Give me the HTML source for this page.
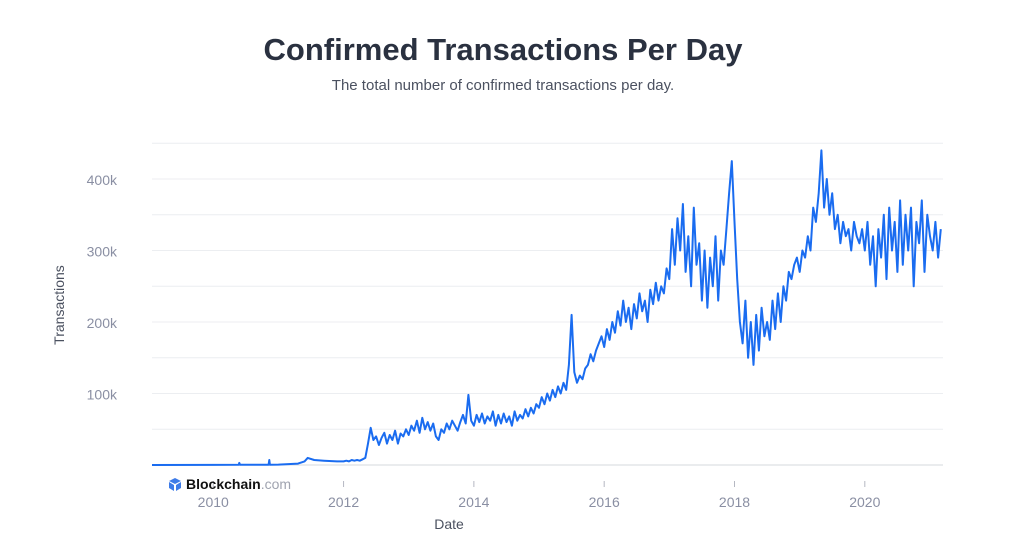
<!DOCTYPE html>
<html><head><meta charset="utf-8"><style>
body{margin:0;background:#fff;width:1024px;height:541px;overflow:hidden;font-family:"Liberation Sans",sans-serif}
</style></head><body>
<svg width="1024" height="541">
<text x="503" y="60" text-anchor="middle" font-size="31" font-weight="bold" fill="#2a3140">Confirmed Transactions Per Day</text>
<text x="503" y="90" text-anchor="middle" font-size="15" fill="#4b5160">The total number of confirmed transactions per day.</text>
<g id="grid"></g>
<g id="yticks"></g>
<g id="xticks"></g>
<text transform="translate(64,305) rotate(-90)" text-anchor="middle" font-size="14" fill="#4b5160">Transactions</text>
<text x="449" y="529" text-anchor="middle" font-size="14" fill="#4b5160">Date</text>
<g>
<path d="M175 478 l6 3 -6 3 -6 -3z M169 482 l5 3 v6 l-5 -3z M181 482 l-5 3 v6 l5 -3z" fill="#3d7be8"/>
<text x="186" y="489" font-size="14" font-weight="bold" fill="#111">Blockchain<tspan font-weight="normal" fill="#a0a4b0">.com</tspan></text>
</g>
<path id="line" fill="none" stroke="#1a6cf0" stroke-width="2" stroke-linejoin="round"/>
</svg>
<script>
const yTicks=[100000,200000,300000,400000];
const yTickLabels=["100k","200k","300k","400k"];
const xTicks=[2010,2012,2014,2016,2018,2020];
const earlyDates=[2009.06,2010.0,2010.39,2010.4,2010.41,2010.85,2010.86,2010.87,2011.0,2011.3,2011.4,2011.45,2011.55,2011.7,2011.9];
const earlyValues=[0,200,300,3000,300,400,7000,400,500,2000,5000,10000,7000,6000,5000];
const startYear=2012, stepYears=1/24;
const values=[
5,6,5,7,6,7,6,8,10,30,52,35,40,28,38,45,30,42,35,48,30,44,40,50,
42,55,48,62,45,66,50,60,48,58,40,35,50,45,58,50,62,55,48,60,70,58,98,62,
55,70,60,72,58,68,62,75,55,70,58,72,60,68,55,75,62,70,65,78,68,80,72,85,
80,95,85,100,90,105,95,110,100,115,105,140,210,130,115,125,120,135,140,155,145,160,170,180,
165,190,175,200,185,215,195,230,200,220,190,225,205,240,215,230,200,245,225,255,230,250,240,275,
260,330,280,345,300,365,270,320,250,360,280,310,230,300,220,290,250,320,230,300,280,330,380,425,
340,260,200,170,230,150,200,140,210,160,220,180,200,175,230,190,240,200,250,230,270,260,280,290,
270,300,290,320,300,360,340,380,440,360,400,350,380,330,350,310,340,320,330,300,340,320,310,330,
300,340,280,320,250,330,290,350,260,360,300,340,270,370,280,350,300,360,250,340,310,370,270,350,
320,300,340,290,330];
const NS="http://www.w3.org/2000/svg";
const x0=152,x1=943,yr0=2009.06,yr1=2021.2;
const X=t=>x0+(t-yr0)/(yr1-yr0)*(x1-x0);
const Y=v=>465-v/100000*71.5;
const grid=document.getElementById('grid');
for(let v=0;v<=450000;v+=50000){
 const l=document.createElementNS(NS,'line');
 
 
 l.setAttribute('x1',x0);l.setAttribute('x2',x1);l.setAttribute('y1',Y(v));l.setAttribute('y2',Y(v));
 l.setAttribute('stroke',v===0?'#d5d8de':'#eceef1');grid.appendChild(l);
}
const yg=document.getElementById('yticks');
yTicks.forEach((v,i)=>{
 const t=document.createElementNS(NS,'text');
 
 
 t.setAttribute('x',117);t.setAttribute('y',Y(v)+6);t.setAttribute('text-anchor','end');
 t.setAttribute('font-size','14');t.setAttribute('fill','#8a8fa3');t.textContent=yTickLabels[i];yg.appendChild(t);
});
const xg=document.getElementById('xticks');
xTicks.forEach(yr=>{
 const l=document.createElementNS(NS,'line');
 
 
 l.setAttribute('x1',X(yr));l.setAttribute('x2',X(yr));l.setAttribute('y1',481);l.setAttribute('y2',487);
 l.setAttribute('stroke','#b5b8c2');xg.appendChild(l);
 const t=document.createElementNS(NS,'text');
 
 
 t.setAttribute('x',X(yr));t.setAttribute('y',507);t.setAttribute('text-anchor','middle');
 t.setAttribute('font-size','14');t.setAttribute('fill','#8a8fa3');t.textContent=yr;xg.appendChild(t);
});
let d='';
earlyDates.forEach((t,i)=>{d+=(i?'L':'M')+X(t).toFixed(1)+' '+Y(earlyValues[i]).toFixed(1);});
values.forEach((v,i)=>{d+='L'+X(startYear+i*stepYears).toFixed(1)+' '+Y(v*1000).toFixed(1);});
document.getElementById('line').setAttribute('d',d);
</script>
</body></html>
